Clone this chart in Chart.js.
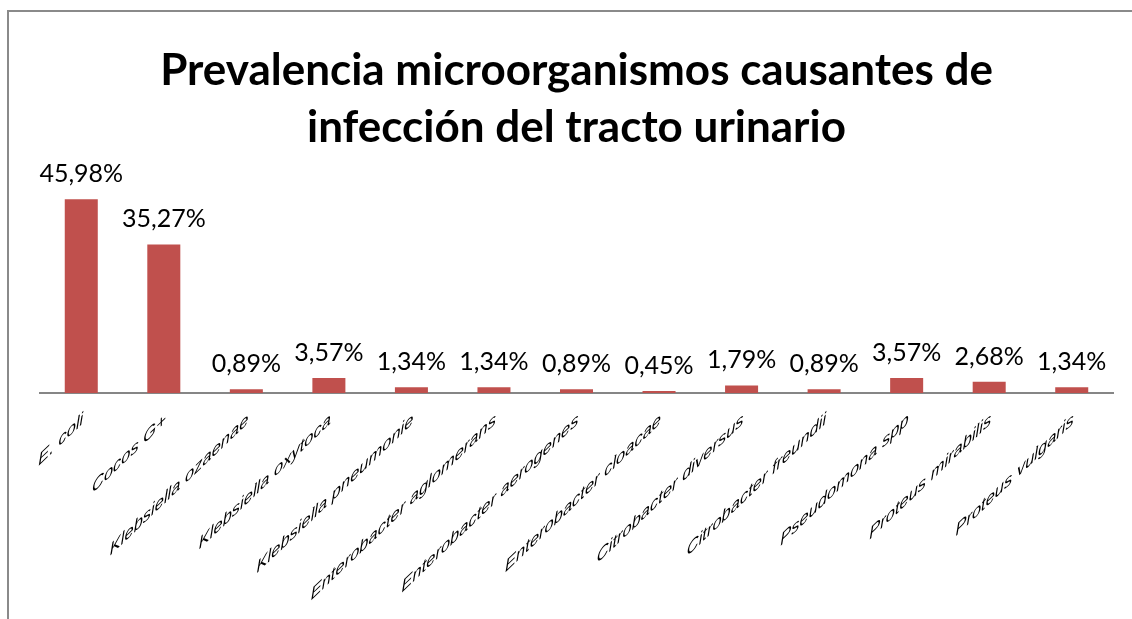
<!DOCTYPE html>
<html>
<head>
<meta charset="utf-8">
<script src="https://cdn.jsdelivr.net/npm/chart.js@4/dist/chart.umd.min.js"></script>
<style>
  html, body { margin: 0; padding: 0; background: #fff; overflow: hidden; }
  canvas { display: block; }
</style>
</head>
<body>
<canvas id="prevalenceChart" width="1132" height="619"></canvas>
<script>
const titleLines = ['Prevalencia microorganismos causantes de', 'infección del tracto urinario'];

const organisms = [
  'E. coli',
  'Cocos G+',
  'Klebsiella ozaenae',
  'Klebsiella oxytoca',
  'Klebsiella pneumonie',
  'Enterobacter aglomerans',
  'Enterobacter aerogenes',
  'Enterobacter cloacae',
  'Citrobacter diversus',
  'Citrobacter freundii',
  'Pseudomona spp',
  'Proteus mirabilis',
  'Proteus vulgaris'
];

const prevalence = [45.98, 35.27, 0.89, 3.57, 1.34, 1.34, 0.89, 0.45, 1.79, 0.89, 3.57, 2.68, 1.34];

const formatPercent = (v) => v.toFixed(2).replace('.', ',') + '%';

// grey chart frame, only the left and top edges are in view
const chartFrame = {
  id: 'chartFrame',
  beforeDraw(chart) {
    const ctx = chart.ctx;
    ctx.save();
    ctx.strokeStyle = '#8a8a8a';
    ctx.lineWidth = 2;
    ctx.beginPath();
    ctx.moveTo(8, chart.height);
    ctx.lineTo(8, 11);
    ctx.lineTo(chart.width, 11);
    ctx.stroke();
    ctx.restore();
  }
};

// draws the value above every bar
const barValueLabels = {
  id: 'barValueLabels',
  afterDatasetsDraw(chart) {
    const ctx = chart.ctx;
    const meta = chart.getDatasetMeta(0);
    ctx.save();
    ctx.font = '25px Lato, "Open Sans", sans-serif';
    ctx.fillStyle = '#000';
    ctx.textAlign = 'center';
    ctx.textBaseline = 'alphabetic';
    meta.data.forEach((bar, i) => {
      ctx.fillText(formatPercent(prevalence[i]), bar.x, bar.y - 17);
    });
    ctx.restore();
  }
};

// category labels slanted the way the old office export does it (sheared, not rotated)
const slantedCategoryLabels = {
  id: 'slantedCategoryLabels',
  afterDraw(chart) {
    const ctx = chart.ctx;
    const xScale = chart.scales.x;
    const slope = 0.96;
    ctx.save();
    ctx.font = 'italic 16.5px "Liberation Sans", Arial, sans-serif';
    ctx.fillStyle = '#000';
    ctx.textAlign = 'right';
    ctx.textBaseline = 'alphabetic';
    xScale.ticks.forEach((tick, i) => {
      const x = xScale.getPixelForTick(i) + 2;
      const y = xScale.top + 30;
      ctx.save();
      ctx.translate(x, y);
      ctx.transform(1, -slope, 0, 1, 0, 0);
      ctx.fillText(chart.data.labels[tick.value], 0, 0);
      ctx.restore();
    });
    ctx.restore();
  }
};

const canvas = document.getElementById('prevalenceChart');

new Chart(canvas, {
  type: 'bar',
  data: {
    labels: organisms,
    datasets: [{
      data: prevalence,
      backgroundColor: '#C0504D',
      borderWidth: 0,
      barPercentage: 0.4,
      categoryPercentage: 1
    }]
  },
  options: {
    responsive: false,
    animation: false,
    layout: {
      padding: { left: 40, right: 19, top: 0, bottom: 0 }
    },
    plugins: {
      legend: { display: false },
      tooltip: { enabled: false },
      title: {
        display: true,
        text: titleLines,
        color: '#000',
        font: { family: 'Lato, "Open Sans", sans-serif', size: 44, weight: 'bold', lineHeight: 1.3 },
        padding: { top: 42, bottom: 26 }
      }
    },
    scales: {
      x: {
        grid: { display: false },
        border: { display: true, color: '#868686', width: 2 },
        ticks: { display: false, autoSkip: false },
        afterFit: (scale) => { scale.height = 226; }
      },
      y: {
        display: false,
        min: 0,
        max: 50
      }
    }
  },
  plugins: [chartFrame, barValueLabels, slantedCategoryLabels]
});
</script>
</body>
</html>
